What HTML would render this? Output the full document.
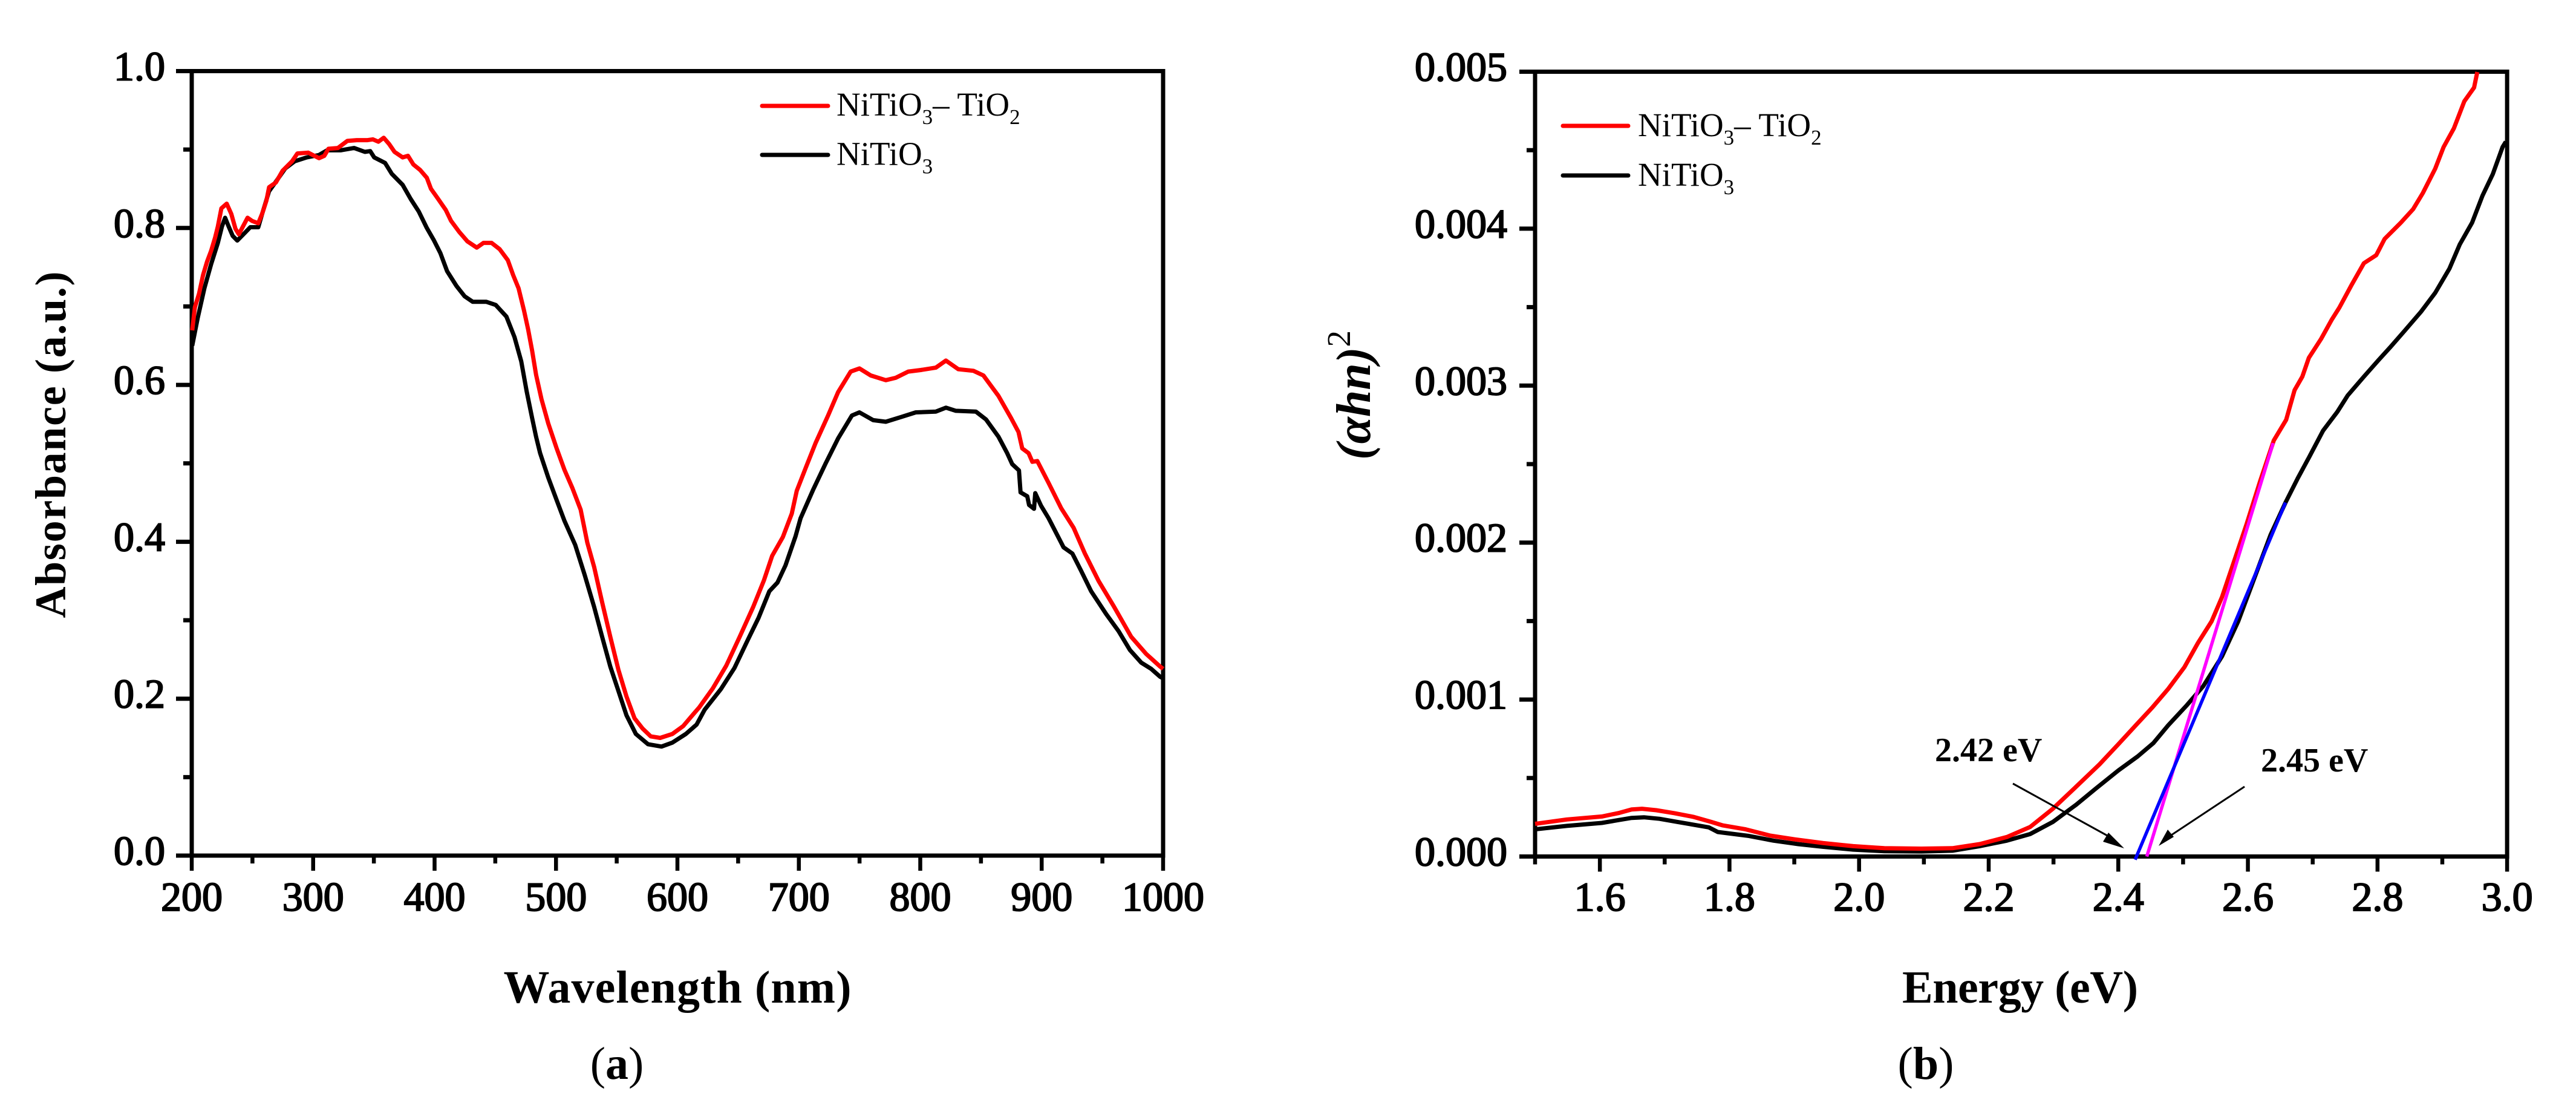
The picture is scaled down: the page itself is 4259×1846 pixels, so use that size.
<!DOCTYPE html>
<html lang="en">
<head>
<meta charset="utf-8">
<title>Absorbance and Tauc plots of NiTiO3 and NiTiO3–TiO2</title>
<style>
html,body{margin:0;padding:0;background:#fff;}
svg{display:block;}
text{font-family:"Liberation Serif","DejaVu Serif",serif;fill:#000;}
.tick{font-size:68px;stroke:#000;stroke-width:2px;}
.title{font-size:76px;font-weight:bold;}
.leg{font-size:55px;}
.sub{font-size:35px;}
.cap{font-size:76px;}
.ann{font-size:56px;font-weight:bold;}
</style>
</head>
<body>
<svg id="fig" xmlns="http://www.w3.org/2000/svg" width="4259" height="1846" viewBox="0 0 4259 1846">
<rect x="0" y="0" width="4259" height="1846" fill="#fff"/>
<g id="panelA"></g>
<g id="panelB"></g>

<text class="title" x="1120" y="1657" text-anchor="middle" textLength="575" lengthAdjust="spacing">Wavelength (nm)</text>
<text class="title" style="font-size:72px" transform="translate(108,735) rotate(-90)" text-anchor="middle" textLength="573" lengthAdjust="spacing">Absorbance (a.u.)</text>
<text class="cap" x="1020" y="1783" text-anchor="middle">(<tspan font-weight="bold">a</tspan>)</text>

<text class="title" x="3340" y="1657" text-anchor="middle" textLength="390" lengthAdjust="spacing">Energy (eV)</text>
<text transform="translate(2265,760) rotate(-90)" style="font-size:80px;font-weight:bold;font-style:italic">(αhn)<tspan dy="-33" style="font-size:55px;font-style:normal;font-weight:normal">2</tspan></text>
<text class="cap" x="3184" y="1783" text-anchor="middle">(<tspan font-weight="bold">b</tspan>)</text>

<g>
<line x1="1260" y1="175" x2="1369" y2="175" stroke="#ff0000" stroke-width="7" stroke-linecap="round"/>
<text class="leg" x="1383" y="191">NiTiO<tspan class="sub" dy="14">3</tspan><tspan dy="-14">– TiO</tspan><tspan class="sub" dy="14">2</tspan></text>
<line x1="1260" y1="256" x2="1369" y2="256" stroke="#000" stroke-width="7" stroke-linecap="round"/>
<text class="leg" x="1383" y="272.5">NiTiO<tspan class="sub" dy="14">3</tspan></text>
</g>

<g>
<line x1="2584" y1="208" x2="2692" y2="208" stroke="#ff0000" stroke-width="7" stroke-linecap="round"/>
<text class="leg" x="2708" y="225">NiTiO<tspan class="sub" dy="14">3</tspan><tspan dy="-14">– TiO</tspan><tspan class="sub" dy="14">2</tspan></text>
<line x1="2584" y1="290" x2="2692" y2="290" stroke="#000" stroke-width="7" stroke-linecap="round"/>
<text class="leg" x="2708" y="307">NiTiO<tspan class="sub" dy="14">3</tspan></text>
</g>

<g>
<text class="ann" x="3199" y="1258">2.42 eV</text>
<line x1="3328" y1="1295" x2="3495" y2="1387" stroke="#000" stroke-width="3"/>
<polygon points="3512,1402 3477,1391 3486,1376" fill="#000"/>
<text class="ann" x="3738" y="1275">2.45 eV</text>
<line x1="3711" y1="1300" x2="3584" y2="1384" stroke="#000" stroke-width="3"/>
<polygon points="3569,1398 3594,1383 3584,1371" fill="#000"/>
</g>
</svg>

<script>
// Panel (a): UV-Vis absorbance
const aXTicks = [200,300,400,500,600,700,800,900,1000];
const aXMinor = [250,350,450,550,650,750,850,950];
const aYTicks = [0,0.2,0.4,0.6,0.8,1.0];
const aYMinor = [0.1,0.3,0.5,0.7,0.9];
const aYLabels = ["0.0","0.2","0.4","0.6","0.8","1.0"];

const aRedWl = [200.4,202.6,206,209.3,212.6,216,219.3,221.5,224.4,228.8,232.6,236,238.8,242.2,246,249.7,254.8,258.2,261.5,263.7,269.3,274.8,282.6,287,295.9,304.8,309.2,312.6,320.4,328.1,335.9,344.8,349.2,353.7,358.1,362.6,367,373.7,378.1,382.5,388.1,393.6,397,402.5,409.2,413.6,420.3,427,434.7,440.3,446.9,453.6,460.3,464.7,469.2,473.6,477,480.3,483.6,488,493.6,500.3,506.9,513.6,520.3,525.8,531.4,538,544.7,551.4,558,564.7,571.3,578,585.8,595.8,604.7,611.3,618,629.1,640.2,651.3,662.4,671.3,678,686.8,694.2,698.3,705.6,713.8,724.1,732.4,742.7,749.9,759.2,771.6,779.8,790.1,800.5,812.8,821.1,831.4,843.8,852,864.4,874.7,880.9,884,889.2,892.3,896.4,905.7,916,926.3,935.6,946.9,959.3,973.7,986.1,997.5,1000];
const aRedAbs = [.6695,.699,.716,.740,.757,.771,.788,.802,.825,.831,.818,.799,.792,.802,.813,.809,.806,.819,.835,.852,.858,.873,.885,.895,.896,.889,.892,.901,.902,.911,.912,.912,.913,.910,.915,.907,.897,.890,.892,.881,.874,.864,.850,.838,.823,.809,.795,.783,.775,.781,.781,.773,.759,.740,.723,.695,.671,.644,.613,.582,.551,.520,.492,.468,.441,.399,.368,.323,.279,.237,.203,.175,.162,.152,.150,.155,.165,.177,.189,.213,.242,.279,.317,.351,.382,.406,.436,.465,.494,.526,.561,.591,.617,.621,.612,.606,.609,.617,.619,.622,.631,.620,.618,.612,.586,.558,.540,.519,.513,.502,.503,.475,.443,.418,.385,.350,.318,.279,.257,.241,.238];

const aBlackWl = [200.4,204.9,210.4,216,221.5,224.9,227.5,230.4,233.7,237.5,242.6,248.2,254.8,258.2,263.7,269.3,277,284.8,294.8,304.8,311.5,322.6,333.7,342.6,347,350.3,359.2,364.8,373.7,380.3,387,393.6,399.2,404.8,410.3,418.1,424.7,431.4,442.5,450.3,459.2,465.8,471.4,475.8,480.3,483.6,486.9,493.6,500.3,506.9,515.8,523.6,531.4,538,544.7,551.4,558,565.8,575.8,586.9,595.8,606.9,615.8,622.4,635.7,646.9,658,666.8,675.7,682.4,689,697.3,701.4,711.7,722.1,732.4,743.7,749.9,761.3,771.6,784,796.3,812.8,821.1,829.3,845.8,854.1,864.4,871.6,875.7,881.3,882.6,888.1,889.6,893.7,894.7,899.5,905.7,918,925.3,932.5,940.7,953.1,963.4,972.7,982,990.2,997.5,1000];
const aBlackAbs = [.650,.685,.723,.754,.781,.802,.813,.802,.790,.784,.792,.801,.801,.819,.847,.859,.876,.885,.890,.893,.899,.899,.902,.897,.898,.890,.883,.869,.855,.837,.821,.800,.785,.768,.745,.726,.713,.706,.706,.702,.687,.661,.630,.592,.558,.534,.513,.482,.454,.427,.396,.358,.317,.279,.241,.210,.179,.155,.142,.139,.144,.155,.167,.186,.212,.239,.275,.303,.337,.348,.370,.407,.430,.466,.500,.532,.561,.565,.555,.553,.559,.565,.566,.571,.567,.566,.556,.534,.513,.499,.491,.463,.458,.447,.442,.462,.446,.430,.393,.385,.363,.337,.308,.286,.262,.246,.238,.228,.226];

// Panel (b): Tauc plot. Values are (αhn)² in units of 1e-3.
const bXTicks = [1.6,1.8,2.0,2.2,2.4,2.6,2.8,3.0];
const bXMinor = [1.5,1.7,1.9,2.1,2.3,2.5,2.7,2.9];
const bYTicks = [0,1,2,3,4,5];
const bYMinor = [0.5,1.5,2.5,3.5,4.5];
const bYLabels = ["0.000","0.001","0.002","0.003","0.004","0.005"];

const bRedEnergy = [1.5,1.549,1.603,1.63,1.649,1.665,1.687,1.715,1.744,1.772,1.789,1.825,1.863,1.901,1.944,1.991,2.039,2.096,2.144,2.186,2.228,2.264,2.299,2.335,2.371,2.400,2.427,2.452,2.477,2.502,2.523,2.544,2.560,2.577,2.598,2.619,2.640,2.659,2.672,2.684,2.694,2.713,2.729,2.741,2.760,2.779,2.798,2.811,2.836,2.855,2.870,2.889,2.902,2.918,2.934,2.949,2.954];
const bRedVal = [.208,.236,.255,.278,.300,.304,.295,.276,.253,.220,.199,.173,.133,.109,.086,.066,.053,.050,.053,.079,.124,.188,.304,.445,.587,.715,.836,.947,1.068,1.206,1.361,1.498,1.653,1.860,2.118,2.393,2.651,2.782,2.971,3.057,3.177,3.298,3.418,3.496,3.642,3.780,3.831,3.935,4.038,4.124,4.227,4.382,4.520,4.640,4.812,4.899,4.998];

const bBlackEnergy = [1.5,1.549,1.603,1.63,1.649,1.668,1.692,1.72,1.768,1.782,1.83,1.868,1.906,1.944,1.991,2.039,2.096,2.144,2.186,2.228,2.264,2.299,2.335,2.365,2.400,2.430,2.454,2.477,2.506,2.531,2.560,2.585,2.610,2.635,2.658,2.677,2.694,2.716,2.738,2.754,2.779,2.801,2.820,2.842,2.867,2.889,2.911,2.927,2.946,2.962,2.978,2.993,2.998];
const bBlackVal = [.173,.195,.214,.233,.246,.250,.240,.220,.186,.156,.131,.101,.079,.062,.044,.034,.032,.037,.066,.101,.143,.220,.330,.432,.548,.638,.722,.836,.965,1.085,1.275,1.498,1.774,2.049,2.255,2.410,2.541,2.713,2.833,2.937,3.057,3.160,3.246,3.350,3.470,3.591,3.745,3.900,4.038,4.210,4.348,4.520,4.554];

const bFitRedEnergy = [2.444,2.639];
const bFitRedVal = [0,2.634];
const bFitBlackEnergy = [2.426,2.658];
const bFitBlackVal = [-0.02,2.255];

const NS = 'http://www.w3.org/2000/svg';
const panelA = document.getElementById('panelA');
const panelB = document.getElementById('panelB');

function xA(w){ return 317 + (w - 200) * 2.0075; }
function yA(v){ return 1414 - v * 1296.5; }
function xB(e){ return 2538 + (e - 1.5) * 1071.4; }
function yB(v){ return 1415.5 - v * 259.4; }

function make(tag, parent, attrs){
  const n = document.createElementNS(NS, tag);
  for (const k in attrs) n.setAttribute(k, attrs[k]);
  parent.appendChild(n);
  return n;
}
function pathFrom(xs, ys, fx, fy){
  return xs.map(function(x, i){ return (i ? 'L' : 'M') + fx(x).toFixed(1) + ' ' + fy(ys[i]).toFixed(1); }).join('');
}

function drawAxes(parent, fx, fy, xDom, yDom, xTicks, xMinor, yTicks, yMinor, xLabels, yLabels, yLabelX){
  const L = fx(xDom[0]), R = fx(xDom[1]), B = fy(yDom[0]), T = fy(yDom[1]);
  const frame = make('rect', parent, {x:L, y:T, width:R-L, height:B-T, fill:'none', stroke:'#000', 'stroke-width':7});
  
  
  xTicks.forEach(function(t, i){
    const tick = make('line', parent, {x1:fx(t), x2:fx(t), y1:B, y2:B+25, stroke:'#000', 'stroke-width':6.5});
    
    
    const label = make('text', parent, {x:fx(t), y:1505, 'text-anchor':'middle', class:'tick'});
    
    
    label.textContent = xLabels[i];
  });
  xMinor.forEach(function(t){
    const tick = make('line', parent, {x1:fx(t), x2:fx(t), y1:B, y2:B+13, stroke:'#000', 'stroke-width':6.5});
    
    
  });
  yTicks.forEach(function(t, i){
    const tick = make('line', parent, {x1:L-26, x2:L, y1:fy(t), y2:fy(t), stroke:'#000', 'stroke-width':7});
    
    
    const label = make('text', parent, {x:yLabelX, y:fy(t)+15, 'text-anchor':'end', class:'tick'});
    
    
    label.textContent = yLabels[i];
  });
  yMinor.forEach(function(t){
    const tick = make('line', parent, {x1:L-14, x2:L, y1:fy(t), y2:fy(t), stroke:'#000', 'stroke-width':7});
    
    
  });
}

drawAxes(panelA, xA, yA, [200,1000], [0,1], aXTicks, aXMinor, aYTicks, aYMinor, aXTicks.map(String), aYLabels, 273);
drawAxes(panelB, xB, yB, [1.5,3.0], [0,5], bXTicks, bXMinor, bYTicks, bYMinor, bXTicks.map(function(v){return v.toFixed(1);}), bYLabels, 2492);

function curve(parent, d, color, width){
  return make('path', parent, {d:d, fill:'none', stroke:color, 'stroke-width':width, 'stroke-linejoin':'round', 'stroke-linecap':'butt'});
}

const blackA = curve(panelA, pathFrom(aBlackWl, aBlackAbs, xA, yA), '#000', 7);


const redA = curve(panelA, pathFrom(aRedWl, aRedAbs, xA, yA), '#ff0000', 7);



const blackB = curve(panelB, pathFrom(bBlackEnergy, bBlackVal, xB, yB), '#000', 7);


const redB = curve(panelB, pathFrom(bRedEnergy, bRedVal, xB, yB), '#ff0000', 7);


const fitRed = curve(panelB, pathFrom(bFitRedEnergy, bFitRedVal, xB, yB), '#ff00ff', 5.5);


const fitBlack = curve(panelB, pathFrom(bFitBlackEnergy, bFitBlackVal, xB, yB), '#0000ff', 5.5);


</script>
</body>
</html>
